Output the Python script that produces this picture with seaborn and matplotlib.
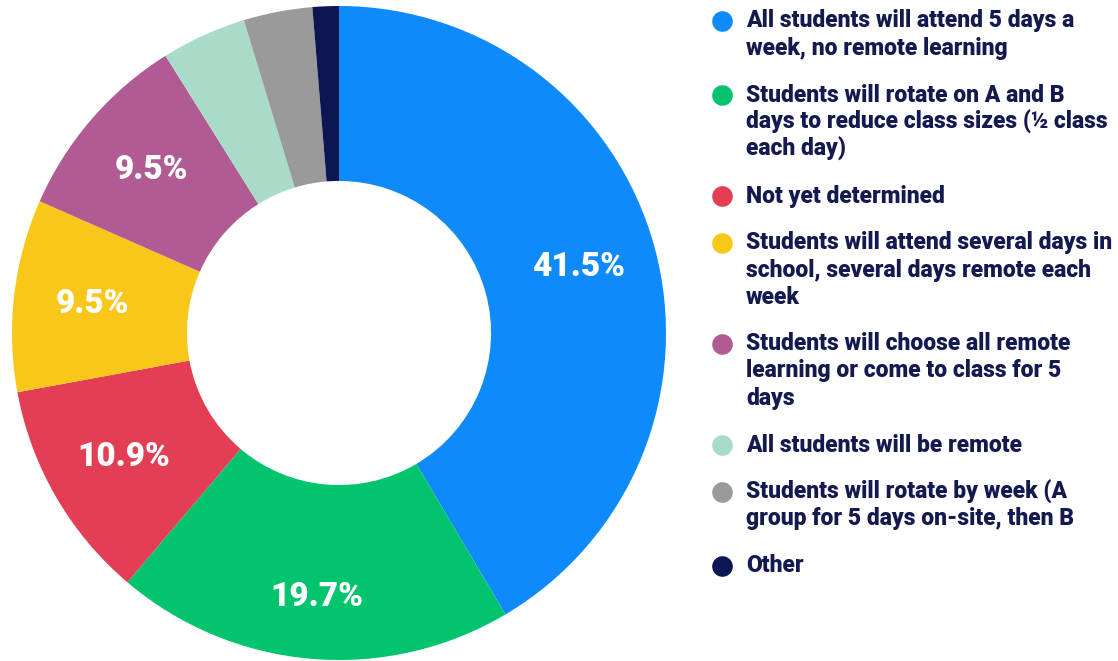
import matplotlib
matplotlib.use("Agg")
import matplotlib.pyplot as plt
import seaborn as sns
import numpy as np

# data
categories = [
    "All students will attend 5 days a\nweek, no remote learning",
    "Students will rotate on A and B\ndays to reduce class sizes (\u00bd class\neach day)",
    "Not yet determined",
    "Students will attend several days in\nschool, several days remote each\nweek",
    "Students will choose all remote\nlearning or come to class for 5\ndays",
    "All students will be remote",
    "Students will rotate by week (A\ngroup for 5 days on-site, then B",
    "Other",
]
values = [41.5, 19.7, 10.9, 9.5, 9.5, 4.2, 3.4, 1.3]
colors = ["#0f8afb", "#03c46e", "#e33e53", "#f9c719", "#b05b93",
          "#a9dcc8", "#9a9a9a", "#0b1653"]
label_dist = [0.76, 0.81, 0.76, 0.76, 0.76, 0.76, 0.76, 0.76]

sns.set_theme(style="white")
plt.rcParams['font.family'] = ['Roboto', 'DejaVu Sans']
palette = sns.color_palette(colors)
navy = "#141a4f"

fig = plt.figure(figsize=(11.18, 6.61), dpi=100)

# donut
ax = fig.add_axes([12 / 1118, 1 / 661, 654 / 1118, 654 / 661])
wedges, texts, autotexts = ax.pie(
    values, colors=palette, startangle=90, counterclock=False,
    radius=1, wedgeprops=dict(width=0.535, linewidth=0),
    autopct=lambda p: f"{p:.1f}%" if p > 5 else "",
    pctdistance=0.76,
)
for w, t, d in zip(wedges, autotexts, label_dist):
    ang = np.deg2rad((w.theta1 + w.theta2) / 2)
    t.set_position((d * np.cos(ang), d * np.sin(ang)))
    t.set_color("white")
    t.set_fontsize(24)
    t.set_fontweight("heavy")
ax.set_xlim(-1, 1)
ax.set_ylim(-1, 1)
ax.set_aspect("equal")
ax.axis("off")

# legend
lax = fig.add_axes([0, 0, 1, 1])
lax.set_xlim(0, 1118)
lax.set_ylim(661, 0)
lax.axis("off")
y = 21
for label, c in zip(categories, palette):
    lines = label.split("\n")
    lax.scatter([722], [y], s=220, color=c, linewidths=0)
    for i, line in enumerate(lines):
        lax.text(746, y + i * 27, line, fontsize=16.5, fontweight="heavy",
                 color=navy, va="center", ha="left")
    y += (len(lines) - 1) * 27 + 47

fig.savefig("out.png", dpi=100)
